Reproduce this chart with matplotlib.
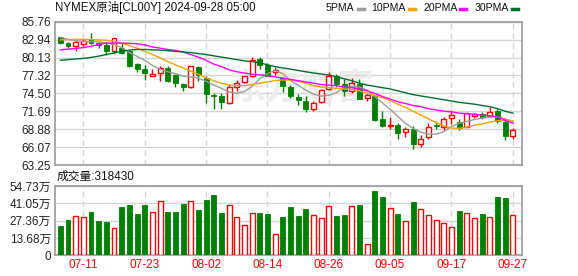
import matplotlib
matplotlib.use("Agg")
import matplotlib.pyplot as plt
from matplotlib.lines import Line2D
import numpy as np

plt.rcParams['font.family'] = ['Liberation Sans', 'Noto Sans CJK SC']

dates = ['07-08', '07-09', '07-10', '07-11', '07-12', '07-15', '07-16', '07-17', '07-18', '07-19',
         '07-22', '07-23', '07-24', '07-25', '07-26', '07-29', '07-30', '07-31', '08-01', '08-02',
         '08-05', '08-06', '08-07', '08-08', '08-09', '08-12', '08-13', '08-14', '08-15', '08-16',
         '08-19', '08-20', '08-21', '08-22', '08-23', '08-26', '08-27', '08-28', '08-29', '08-30',
         '09-02', '09-03', '09-04', '09-05', '09-06', '09-09', '09-10', '09-11', '09-12', '09-13',
         '09-16', '09-17', '09-18', '09-19', '09-20', '09-23', '09-24', '09-25', '09-26', '09-27']

opens = [83.32, 82.49, 82.02, 82.30, 83.06, 82.40, 82.10, 81.08, 81.70, 81.08,
         79.16, 78.38, 77.30, 77.76, 78.50, 77.35, 76.05, 75.50, 78.60, 76.90,
         74.30, 74.07, 73.00, 75.50, 76.25, 77.20, 79.90, 78.95, 77.80, 76.90,
         75.50, 73.90, 73.30, 72.00, 73.15, 75.20, 77.30, 75.90, 74.80, 76.05,
         73.80, 74.07, 70.55, 69.40, 69.50, 68.36, 68.95, 66.55, 67.60, 69.45,
         69.27, 70.60, 69.96, 69.20, 71.00, 71.30, 70.95, 71.75, 70.00, 67.85]
closes = [82.49, 82.02, 82.64, 82.70, 82.49, 82.10, 81.10, 83.16, 80.90, 78.75,
          78.38, 77.70, 77.60, 78.50, 76.50, 76.15, 75.50, 78.80, 77.35, 74.40,
          74.10, 73.14, 75.50, 76.15, 77.20, 79.70, 78.95, 77.30, 78.20, 75.70,
          74.10, 73.40, 72.00, 73.05, 75.10, 77.30, 75.90, 74.85, 76.15, 73.65,
          74.20, 70.35, 69.40, 69.50, 68.20, 68.88, 66.50, 67.33, 69.27, 69.45,
          70.47, 71.10, 69.10, 71.37, 71.20, 70.85, 71.60, 70.20, 67.75, 68.70]
highs = [83.40, 82.64, 82.90, 83.00, 83.94, 82.60, 82.50, 83.25, 82.40, 81.30,
         79.30, 78.90, 78.40, 78.75, 78.75, 77.50, 76.10, 78.85, 78.80, 77.20,
         74.60, 74.60, 75.90, 76.65, 77.30, 80.20, 80.20, 79.25, 78.60, 77.10,
         75.80, 74.40, 74.10, 73.30, 75.20, 77.80, 77.60, 76.70, 76.90, 76.70,
         74.60, 74.30, 71.70, 70.85, 69.90, 69.20, 69.30, 68.00, 69.80, 70.10,
         70.85, 71.90, 70.40, 71.45, 71.45, 71.50, 72.40, 72.00, 70.40, 69.00]
lows = [82.33, 81.60, 81.10, 81.90, 82.28, 81.70, 80.60, 80.70, 80.70, 78.70,
        77.80, 76.60, 77.30, 76.40, 76.35, 75.50, 74.85, 75.40, 76.40, 73.00,
        72.00, 72.00, 72.90, 74.80, 76.15, 77.10, 78.30, 77.20, 77.45, 74.70,
        73.70, 72.60, 71.60, 71.70, 73.00, 75.10, 75.50, 74.10, 74.50, 73.55,
        73.30, 70.20, 69.20, 68.90, 67.40, 67.60, 65.70, 66.10, 67.30, 68.95,
        68.80, 69.70, 68.80, 69.15, 70.70, 70.45, 70.85, 69.90, 67.10, 67.40]

ma5 = [83.3, 83.0, 82.8, 82.64, 82.6, 82.6, 82.4, 82.15, 81.7, 80.9,
       80.3, 79.7, 78.9, 78.3, 77.9, 77.6, 77.2, 77.1, 76.9, 76.4,
       75.8, 75.3, 74.7, 74.5, 74.8, 75.6, 76.8, 77.6, 78.1, 77.6,
       76.5, 75.8, 75.0, 74.4, 74.07, 74.2, 74.6, 75.4, 75.6, 75.5,
       75.0, 74.0, 73.0, 72.0, 70.9, 69.8, 69.0, 68.4, 68.1, 68.1,
       68.5, 69.3, 69.8, 70.1, 70.4, 70.6, 70.8, 70.8, 70.5, 70.1]
ma10 = [82.9, 82.95, 83.0, 83.0, 82.95, 82.9, 82.85, 82.7, 82.4, 82.0,
        81.6, 81.1, 80.6, 80.1, 79.5, 79.0, 78.5, 78.0, 77.5, 76.9,
        76.5, 76.1, 75.8, 75.7, 75.7, 75.9, 76.1, 76.3, 76.5, 76.6,
        76.6, 76.4, 76.1, 75.7, 75.5, 75.4, 75.3, 75.2, 75.1, 74.9,
        74.5, 74.2, 73.8, 73.4, 72.8, 72.3, 71.7, 71.1, 70.5, 69.9,
        69.4, 69.05, 69.0, 69.2, 69.5, 69.7, 70.0, 70.2, 70.25, 70.2]
ma20 = [81.35, 81.45, 81.55, 81.7, 81.9, 82.2, 82.4, 82.4, 82.4, 82.35,
        82.3, 82.1, 81.8, 81.6, 81.4, 81.25, 81.0, 80.6, 80.2, 79.7,
        79.1, 78.7, 78.2, 77.9, 77.7, 77.5, 77.4, 77.3, 77.1, 76.9,
        76.7, 76.5, 76.3, 76.1, 75.9, 75.8, 75.7, 75.5, 75.4, 75.2,
        74.9, 74.5, 74.0, 73.6, 73.2, 72.9, 72.6, 72.4, 72.1, 71.9,
        71.7, 71.6, 71.4, 71.3, 71.2, 71.1, 71.0, 70.8, 70.3, 69.8]
ma30 = [79.7, 79.8, 79.9, 80.0, 80.15, 80.35, 80.6, 80.85, 81.1, 81.3,
        81.4, 81.4, 81.35, 81.3, 81.2, 81.1, 81.0, 80.9, 80.75, 80.6,
        80.4, 80.2, 80.0, 79.8, 79.6, 79.5, 79.3, 79.0, 78.7, 78.5,
        78.3, 78.1, 77.9, 77.7, 77.55, 77.4, 77.1, 76.8, 76.5, 76.1,
        75.8, 75.6, 75.4, 75.2, 74.9, 74.6, 74.3, 74.1, 73.9, 73.7,
        73.5, 73.3, 73.1, 72.95, 72.8, 72.6, 72.4, 72.1, 71.7, 71.4]

# volume in units of 万 (10k contracts)
volumes = [23.2, 27.9, 30.8, 30.0, 34.2, 27.1, 26.3, 21.3, 38.2, 39.5,
           32.6, 39.5, 33.9, 42.9, 34.2, 34.2, 40.5, 42.6, 35.8, 43.7,
           47.6, 33.4, 39.5, 30.0, 23.7, 33.2, 33.4, 32.6, 16.6, 30.3,
           38.2, 31.0, 36.6, 31.6, 29.2, 38.7, 31.0, 31.8, 38.7, 39.7,
           8.7, 50.8, 46.0, 37.1, 32.6, 27.1, 42.1, 36.3, 31.6, 27.6,
           25.3, 22.1, 35.0, 33.4, 29.2, 32.6, 30.0, 46.0, 45.2, 31.843]

price_ticks = [63.25, 66.07, 68.88, 71.69, 74.50, 77.32, 80.13, 82.94, 85.76]
vol_ticks = [0, 13.68, 27.36, 41.05, 54.73]
date_ticks = ['07-11', '07-23', '08-02', '08-14', '08-26', '09-05', '09-17', '09-27']

RED = '#ff0000'
GREEN = '#008000'
GRID = '#d4d4d4'
FRAME = '#9a9a9a'
ma_colors = ['#9c9c9c', '#f5a100', '#ff00ff', '#006f2e']

fig = plt.figure(figsize=(5.78, 2.76), dpi=100)
ax = fig.add_axes([55/578, 1-165/276, 467/578, 143.3/276])
axv = fig.add_axes([55/578, 1-255.3/276, 467/578, 69.3/276])

x = np.arange(len(dates))
o = np.array(opens); c = np.array(closes)
up = c > o
vol_up = c >= o
w = 0.64

# wicks
ax.vlines(x, lows, highs, colors=[RED if u else GREEN for u in up], lw=1, zorder=3)
bottoms = np.minimum(o, c)
heights = np.maximum(np.abs(c - o), 0.06)
ax.bar(x[up], heights[up], w, bottom=bottoms[up], facecolor='white',
       edgecolor=RED, lw=1, zorder=4)
ax.bar(x[~up], heights[~up], w, bottom=bottoms[~up], facecolor=GREEN,
       edgecolor=GREEN, lw=0.6, zorder=4)

for ma, col in zip([ma5, ma10, ma20, ma30], ma_colors):
    ax.plot(x, ma, color=col, lw=1, zorder=5)

# watermark
ax.text(0.53, 0.53, '东方财富', transform=ax.transAxes, fontsize=26, color='#ececec',
        ha='center', va='center', fontweight='bold', zorder=1)

vu = np.array(vol_up)
vv = np.array(volumes)
axv.bar(x[vu], vv[vu], w, facecolor='white', edgecolor=RED, lw=1, zorder=3)
axv.bar(x[~vu], vv[~vu], w, facecolor=GREEN, edgecolor=GREEN, lw=0.6, zorder=3)

tick_idx = [dates.index(d) for d in date_ticks]
for a in (ax, axv):
    a.set_xlim(-0.7, 60.2)
    a.set_xticks(tick_idx)
    a.grid(axis='y', color=GRID, lw=1, zorder=0)
    a.grid(axis='x', color=GRID, lw=1, ls=(0, (4, 3)), zorder=0)
    a.set_axisbelow(True)
    for s in a.spines.values():
        s.set_color(FRAME)
        s.set_linewidth(1.2)
    a.tick_params(length=0, labelsize=8.5, colors='#222222', pad=3)

ax.set_ylim(price_ticks[0], price_ticks[-1])
ax.set_yticks(price_ticks)
ax.set_yticklabels([f'{t:.2f}' for t in price_ticks])
ax.set_xticklabels([])

axv.set_ylim(0, vol_ticks[-1])
axv.set_yticks(vol_ticks)
axv.set_yticklabels(['0'] + [f'{t:.2f}万' for t in vol_ticks[1:]])
axv.set_xticklabels(date_ticks, color=RED)

fig.text(55/578, 1-8/276, 'NYMEX原油[CL00Y] 2024-09-28 05:00', fontsize=8.3,
         va='center', ha='left', color='#111111')
fig.text(57/578, 1-177/276, f'成交量:{volumes[-1]*10000:.0f}', fontsize=8.5,
         va='center', ha='left', color='#111111')

# legend: text followed by a short coloured dash
names = ['5PMA', '10PMA', '20PMA', '30PMA']
renderer = fig.canvas.get_renderer()
px = 326
for name, col in zip(names, ma_colors):
    t = fig.text(px/578, 1-8/276, name, fontsize=7.6, va='center', ha='left', color='#111111')
    bb = t.get_window_extent(renderer)
    x0 = bb.x1 + 3
    fig.add_artist(Line2D([x0/578, (x0+6)/578], [1-9/276, 1-9/276],
                          color=col, lw=2.5, transform=fig.transFigure))
    px = x0 + 14

fig.savefig('out.png', dpi=100)
